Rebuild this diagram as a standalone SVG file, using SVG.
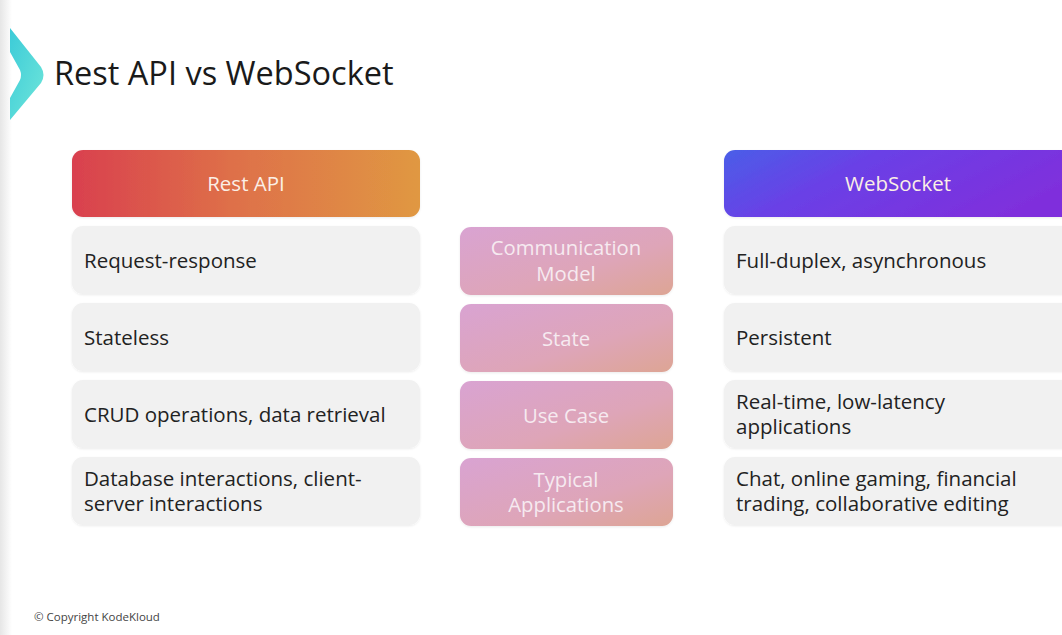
<svg xmlns="http://www.w3.org/2000/svg" width="1062" height="635" viewBox="0 0 1062 635">
  <defs>
    <linearGradient id="gRest" x1="0" y1="0" x2="1" y2="0">
      <stop offset="0" stop-color="#d9404f"/>
      <stop offset="0.45" stop-color="#de6f49"/>
      <stop offset="1" stop-color="#e09842"/>
    </linearGradient>
    <linearGradient id="gWs" x1="0" y1="0" x2="1" y2="0.35">
      <stop offset="0" stop-color="#4a5ee8"/>
      <stop offset="0.4" stop-color="#6a40e6"/>
      <stop offset="1" stop-color="#7f2fdc"/>
    </linearGradient>
    <linearGradient id="gMid" x1="0" y1="0" x2="1" y2="1">
      <stop offset="0" stop-color="#d9a3d2"/>
      <stop offset="0.6" stop-color="#dea5b8"/>
      <stop offset="1" stop-color="#dda594"/>
    </linearGradient>
    <linearGradient id="gChev" x1="0" y1="0" x2="1" y2="1">
      <stop offset="0" stop-color="#3ccbd8"/>
      <stop offset="1" stop-color="#6fe6da"/>
    </linearGradient>
    <linearGradient id="gEdge" x1="0" y1="0" x2="1" y2="0">
      <stop offset="0" stop-color="#e6e6e6"/>
      <stop offset="1" stop-color="#ffffff"/>
    </linearGradient>
    <filter id="soft" x="-5%" y="-10%" width="110%" height="130%">
      <feDropShadow dx="0" dy="1" stdDeviation="1.2" flood-color="#000" flood-opacity="0.08"/>
    </filter>
  </defs>
  <style>
    text { font-family: "Open Sans", "Noto Sans", "DejaVu Sans", sans-serif; }
    .title { font-size: 32.5px; fill: #1a1a1a; }
    .head { font-size: 20.5px; fill: #fbefe6; text-anchor: middle; }
    .cell { fill: #f1f1f1; filter: url(#soft); }
    .mid { fill: url(#gMid); filter: url(#soft); }
    .txt { font-size: 20.5px; fill: #222222; }
    .mtxt { font-size: 20.3px; fill: #f6eaf0; text-anchor: middle; }
    .copy { font-size: 11.5px; fill: #444444; }
  </style>

  <rect x="0" y="0" width="1062" height="635" fill="#ffffff"/>
  <rect x="0" y="0" width="12" height="635" fill="url(#gEdge)"/>

  <!-- header chevron and title -->
  <g id="header">
    <path d="M10 28 L41 67 Q46 75 41 83 L10 120 L10 98 L20 80 Q22 75 20 70 L10 52 Z" fill="url(#gChev)"/>
    <text class="title" x="54" y="85">Rest API vs WebSocket</text>
  </g>

  <!-- Rest API column -->
  <g id="rest-header">
    <rect x="72" y="150" width="348" height="67" rx="11" fill="url(#gRest)" filter="url(#soft)"/>
    <text class="head" x="246" y="191">Rest API</text>
  </g>
  <g id="rest-communication">
    <rect class="cell" x="72" y="226" width="348" height="68" rx="11"/>
    <text class="txt" x="84" y="268">Request-response</text>
  </g>
  <g id="rest-state">
    <rect class="cell" x="72" y="303" width="348" height="68" rx="11"/>
    <text class="txt" x="84" y="345">Stateless</text>
  </g>
  <g id="rest-usecase">
    <rect class="cell" x="72" y="380" width="348" height="68" rx="11"/>
    <text class="txt" x="84" y="422">CRUD operations, data retrieval</text>
  </g>
  <g id="rest-applications">
    <rect class="cell" x="72" y="457" width="348" height="68" rx="11"/>
    <text class="txt" x="84" y="486">Database interactions, client-</text>
    <text class="txt" x="84" y="511">server interactions</text>
  </g>

  <!-- comparison criteria -->
  <g id="crit-communication">
    <rect class="mid" x="460" y="227" width="213" height="68" rx="11"/>
    <text class="mtxt" x="566" y="255">Communication</text>
    <text class="mtxt" x="566" y="281">Model</text>
  </g>
  <g id="crit-state">
    <rect class="mid" x="460" y="304" width="213" height="68" rx="11"/>
    <text class="mtxt" x="566" y="346">State</text>
  </g>
  <g id="crit-usecase">
    <rect class="mid" x="460" y="381" width="213" height="68" rx="11"/>
    <text class="mtxt" x="566" y="423">Use Case</text>
  </g>
  <g id="crit-applications">
    <rect class="mid" x="460" y="458" width="213" height="68" rx="11"/>
    <text class="mtxt" x="566" y="487">Typical</text>
    <text class="mtxt" x="566" y="512">Applications</text>
  </g>

  <!-- WebSocket column -->
  <g id="ws-header">
    <rect x="724" y="150" width="360" height="67" rx="11" fill="url(#gWs)" filter="url(#soft)"/>
    <text class="head" x="898" y="191">WebSocket</text>
  </g>
  <g id="ws-communication">
    <rect class="cell" x="724" y="226" width="360" height="68" rx="11"/>
    <text class="txt" x="736" y="268">Full-duplex, asynchronous</text>
  </g>
  <g id="ws-state">
    <rect class="cell" x="724" y="303" width="360" height="68" rx="11"/>
    <text class="txt" x="736" y="345">Persistent</text>
  </g>
  <g id="ws-usecase">
    <rect class="cell" x="724" y="380" width="360" height="68" rx="11"/>
    <text class="txt" x="736" y="409">Real-time, low-latency</text>
    <text class="txt" x="736" y="434">applications</text>
  </g>
  <g id="ws-applications">
    <rect class="cell" x="724" y="457" width="360" height="68" rx="11"/>
    <text class="txt" x="736" y="486">Chat, online gaming, financial</text>
    <text class="txt" x="736" y="511">trading, collaborative editing</text>
  </g>

  <text class="copy" x="34" y="621">© Copyright KodeKloud</text>
</svg>
